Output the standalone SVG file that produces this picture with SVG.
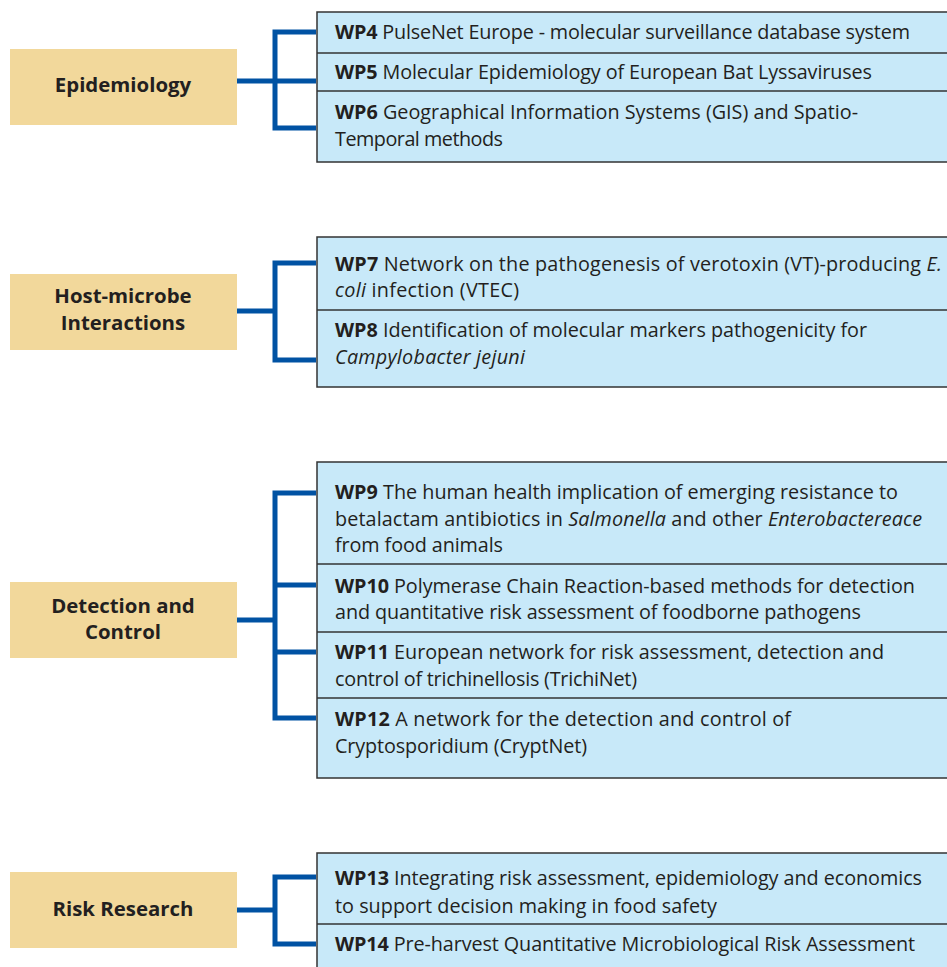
<svg xmlns="http://www.w3.org/2000/svg" width="947" height="967" viewBox="0 0 947 967">
<style>
.cat{fill:#f2d89b}
.cat-t{font-family:"Open Sans","Noto Sans",sans-serif;font-weight:bold;font-size:20.4px;fill:#231f20;text-anchor:middle}
.panel{fill:#c8e9f9;stroke:#333;stroke-width:1.5}
.div{stroke:#333;stroke-width:1.5}
.t{font-family:"Open Sans","Noto Sans",sans-serif;font-size:19.8px;fill:#231f20}
.b{font-weight:bold}
.i{font-style:italic}
.con{fill:none;stroke:#0052a3;stroke-width:5}
</style>
<rect width="947" height="967" fill="#fff"/>

<g id="connectors">
  <path class="con" d="M237 81H316M316 32H275V128H316"/>
  <path class="con" d="M237 311H275M316 263H275V360H316"/>
  <path class="con" d="M237 620H275M316 493H275V718H316M275 585H316M275 652H316"/>
  <path class="con" d="M237 910H275M316 877H275V944H316"/>
</g>

<g id="epidemiology">
  <rect class="cat" x="10" y="49" width="227" height="76"/>
  <text class="cat-t" x="123" y="92">Epidemiology</text>
</g>
<g id="host-microbe">
  <rect class="cat" x="10" y="274" width="227" height="76"/>
  <text class="cat-t" x="123" y="303">Host-microbe</text>
  <text class="cat-t" x="123" y="330">Interactions</text>
</g>
<g id="detection">
  <rect class="cat" x="10" y="582" width="227" height="76"/>
  <text class="cat-t" x="123" y="613">Detection and</text>
  <text class="cat-t" x="123" y="639">Control</text>
</g>
<g id="risk">
  <rect class="cat" x="10" y="872" width="227" height="76"/>
  <text class="cat-t" x="123" y="916">Risk Research</text>
</g>

<g id="panel-epi">
  <rect class="panel" x="317" y="12" width="640" height="150"/>
  <line class="div" x1="317" y1="53" x2="947" y2="53"/>
  <line class="div" x1="317" y1="91" x2="947" y2="91"/>
</g>
<g id="wp4"><text class="t" x="335" y="39" textLength="575" lengthAdjust="spacing"><tspan class="b">WP4</tspan> PulseNet Europe - molecular surveillance database system</text></g>
<g id="wp5"><text class="t" x="335" y="79" textLength="537" lengthAdjust="spacing"><tspan class="b">WP5</tspan> Molecular Epidemiology of European Bat Lyssaviruses</text></g>
<g id="wp6"><text class="t" x="335" y="119" textLength="523" lengthAdjust="spacing"><tspan class="b">WP6</tspan> Geographical Information Systems (GIS) and Spatio-</text>
  <text class="t" x="335" y="146" textLength="168" lengthAdjust="spacing">Temporal methods</text></g>

<g id="panel-host">
  <rect class="panel" x="317" y="237" width="640" height="150"/>
  <line class="div" x1="317" y1="310" x2="947" y2="310"/>
</g>
<g id="wp7"><text class="t" x="335" y="271" textLength="607" lengthAdjust="spacing"><tspan class="b">WP7</tspan> Network on the pathogenesis of verotoxin (VT)-producing <tspan class="i">E.</tspan></text>
  <text class="t" x="335" y="297" textLength="184" lengthAdjust="spacing"><tspan class="i">coli</tspan> infection (VTEC)</text></g>
<g id="wp8"><text class="t" x="335" y="337" textLength="532" lengthAdjust="spacing"><tspan class="b">WP8</tspan> Identification of molecular markers pathogenicity for</text>
  <text class="t" x="335" y="364" textLength="190" lengthAdjust="spacing"><tspan class="i">Campylobacter jejuni</tspan></text></g>

<g id="panel-det">
  <rect class="panel" x="317" y="462" width="640" height="316"/>
  <line class="div" x1="317" y1="564" x2="947" y2="564"/>
  <line class="div" x1="317" y1="632" x2="947" y2="632"/>
  <line class="div" x1="317" y1="698" x2="947" y2="698"/>
</g>
<g id="wp9"><text class="t" x="335" y="499" textLength="563" lengthAdjust="spacing"><tspan class="b">WP9</tspan> The human health implication of emerging resistance to</text>
  <text class="t" x="335" y="526" textLength="587" lengthAdjust="spacing">betalactam antibiotics in <tspan class="i">Salmonella</tspan> and other <tspan class="i">Enterobactereace</tspan></text>
  <text class="t" x="335" y="552" textLength="168" lengthAdjust="spacing">from food animals</text></g>
<g id="wp10"><text class="t" x="335" y="593" textLength="580" lengthAdjust="spacing"><tspan class="b">WP10</tspan> Polymerase Chain Reaction-based methods for detection</text>
  <text class="t" x="335" y="619" textLength="526" lengthAdjust="spacing">and quantitative risk assessment of foodborne pathogens</text></g>
<g id="wp11"><text class="t" x="335" y="659" textLength="549" lengthAdjust="spacing"><tspan class="b">WP11</tspan> European network for risk assessment, detection and</text>
  <text class="t" x="335" y="686" textLength="302" lengthAdjust="spacing">control of trichinellosis (TrichiNet)</text></g>
<g id="wp12"><text class="t" x="335" y="726" textLength="456" lengthAdjust="spacing"><tspan class="b">WP12</tspan> A network for the detection and control of</text>
  <text class="t" x="335" y="753" textLength="252" lengthAdjust="spacing">Cryptosporidium (CryptNet)</text></g>

<g id="panel-risk">
  <rect class="panel" x="317" y="853" width="640" height="130"/>
  <line class="div" x1="317" y1="924" x2="947" y2="924"/>
</g>
<g id="wp13"><text class="t" x="335" y="885" textLength="587" lengthAdjust="spacing"><tspan class="b">WP13</tspan> Integrating risk assessment, epidemiology and economics</text>
  <text class="t" x="335" y="913" textLength="382" lengthAdjust="spacing">to support decision making in food safety</text></g>
<g id="wp14"><text class="t" x="335" y="951" textLength="580" lengthAdjust="spacing"><tspan class="b">WP14</tspan> Pre-harvest Quantitative Microbiological Risk Assessment</text></g>
</svg>
